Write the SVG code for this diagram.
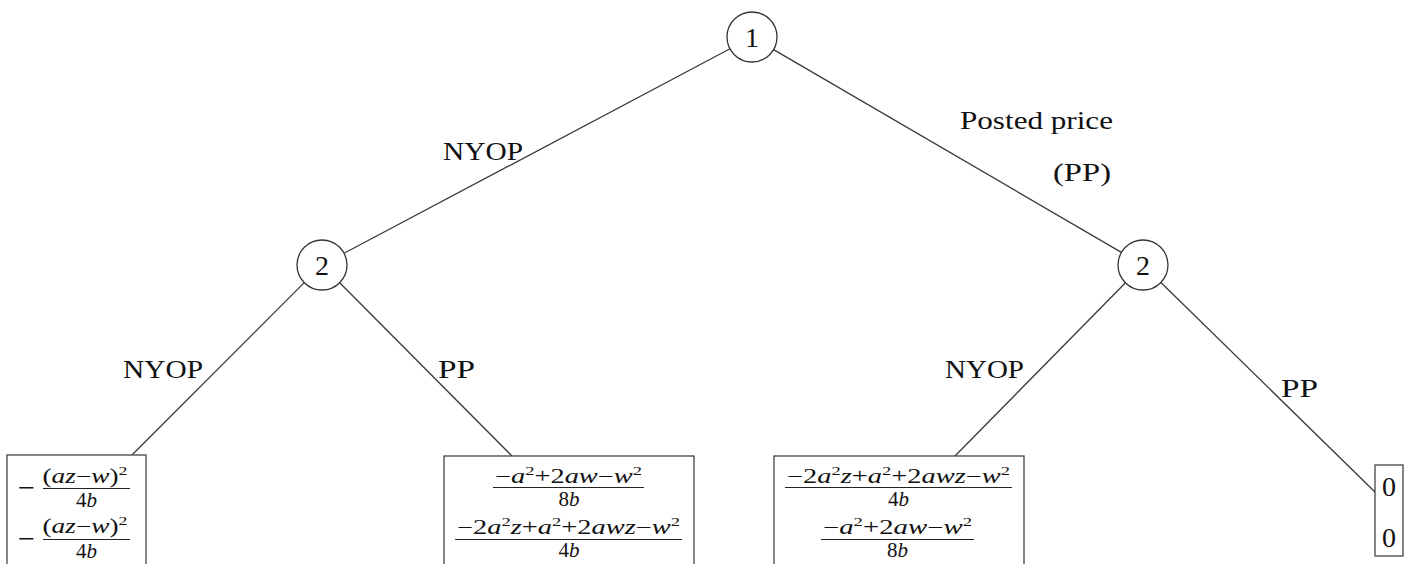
<svg xmlns="http://www.w3.org/2000/svg" width="1417" height="564" viewBox="0 0 1417 564">
<style>
.edge{stroke:#3a3a3a;stroke-width:1.3;fill:none}
.node circle{fill:#fff;stroke:#333;stroke-width:1.3}
.box{fill:#fff;stroke:#444;stroke-width:1.3}
.lbl{font-family:"Liberation Serif",serif;font-size:26px;fill:#111}
.num{font-family:"Liberation Serif",serif;font-size:28px;fill:#111;text-anchor:middle}
.m{font-family:"Liberation Serif",serif;font-size:20px;fill:#111;text-anchor:middle}
.d{font-family:"Liberation Serif",serif;font-size:21px;fill:#111;text-anchor:middle}
.mm{font-family:"Liberation Serif",serif;font-size:28px;fill:#111;text-anchor:middle}
.i{font-style:italic}
.s{font-size:13px}
.fl{stroke:#222;stroke-width:1.2}
</style>
<g id="connectors">
<line class="edge" x1="730" y1="48.7" x2="344.1" y2="253.3"/>
<line class="edge" x1="773.6" y1="49.6" x2="1121.4" y2="252.4"/>
<line class="edge" x1="304.2" y1="282.6" x2="132" y2="455"/>
<line class="edge" x1="339.7" y1="282.8" x2="512" y2="456"/>
<line class="edge" x1="1125.5" y1="282.8" x2="955" y2="456"/>
<line class="edge" x1="1160.9" y1="282.5" x2="1375" y2="492"/>
</g>
<g id="edge-labels">
<text class="lbl" x="443" y="160" textLength="80" lengthAdjust="spacingAndGlyphs">NYOP</text>
<text class="lbl" x="960" y="129" textLength="153" lengthAdjust="spacingAndGlyphs">Posted price</text>
<text class="lbl" x="1053" y="181" textLength="58" lengthAdjust="spacingAndGlyphs">(PP)</text>
<text class="lbl" x="123" y="378" textLength="80" lengthAdjust="spacingAndGlyphs">NYOP</text>
<text class="lbl" x="438" y="378" textLength="37" lengthAdjust="spacingAndGlyphs">PP</text>
<text class="lbl" x="945" y="378" textLength="79" lengthAdjust="spacingAndGlyphs">NYOP</text>
<text class="lbl" x="1281" y="397" textLength="37" lengthAdjust="spacingAndGlyphs">PP</text>
</g>
<g id="node-1" class="node">
<circle cx="752" cy="37" r="25"/>
<text class="num" x="752" y="46.5">1</text>
</g>
<g id="node-2L" class="node">
<circle cx="322" cy="265" r="25"/>
<text class="num" x="322" y="274.5">2</text>
</g>
<g id="node-2R" class="node">
<circle cx="1143" cy="265" r="25"/>
<text class="num" x="1143" y="274.5">2</text>
</g>
<g id="leaf-1">
<rect class="box" x="7" y="455" width="139" height="120"/>
<text class="mm" x="26.5" y="497" textLength="17" lengthAdjust="spacingAndGlyphs">−</text>
<text class="m" x="85" y="483" textLength="85" lengthAdjust="spacingAndGlyphs">(<tspan class="i">az</tspan>−<tspan class="i">w</tspan>)<tspan class="s" dy="-8">2</tspan></text>
<line class="fl" x1="43" y1="488.5" x2="130" y2="488.5"/>
<text class="d" x="86.5" y="507">4<tspan class="i">b</tspan></text>
<text class="mm" x="26.5" y="548" textLength="17" lengthAdjust="spacingAndGlyphs">−</text>
<text class="m" x="85" y="533" textLength="85" lengthAdjust="spacingAndGlyphs">(<tspan class="i">az</tspan>−<tspan class="i">w</tspan>)<tspan class="s" dy="-8">2</tspan></text>
<line class="fl" x1="43" y1="539.5" x2="130" y2="539.5"/>
<text class="d" x="86.5" y="558">4<tspan class="i">b</tspan></text>
</g>
<g id="leaf-2">
<rect class="box" x="444" y="456" width="250" height="120"/>
<text class="m" x="568.5" y="483" textLength="147" lengthAdjust="spacingAndGlyphs">−<tspan class="i">a</tspan><tspan class="s" dy="-8">2</tspan><tspan dy="8">+2</tspan><tspan class="i">aw</tspan>−<tspan class="i">w</tspan><tspan class="s" dy="-8">2</tspan></text>
<line class="fl" x1="493" y1="487.5" x2="644" y2="487.5"/>
<text class="d" x="569" y="506">8<tspan class="i">b</tspan></text>
<text class="m" x="568.5" y="534" textLength="223" lengthAdjust="spacingAndGlyphs">−2<tspan class="i">a</tspan><tspan class="s" dy="-8">2</tspan><tspan class="i" dy="8">z</tspan>+<tspan class="i">a</tspan><tspan class="s" dy="-8">2</tspan><tspan dy="8">+2</tspan><tspan class="i">awz</tspan>−<tspan class="i">w</tspan><tspan class="s" dy="-8">2</tspan></text>
<line class="fl" x1="455" y1="539.5" x2="682" y2="539.5"/>
<text class="d" x="569" y="557">4<tspan class="i">b</tspan></text>
</g>
<g id="leaf-3">
<rect class="box" x="774" y="456" width="250" height="120"/>
<text class="m" x="898.5" y="483" textLength="223" lengthAdjust="spacingAndGlyphs">−2<tspan class="i">a</tspan><tspan class="s" dy="-8">2</tspan><tspan class="i" dy="8">z</tspan>+<tspan class="i">a</tspan><tspan class="s" dy="-8">2</tspan><tspan dy="8">+2</tspan><tspan class="i">awz</tspan>−<tspan class="i">w</tspan><tspan class="s" dy="-8">2</tspan></text>
<line class="fl" x1="785" y1="487.5" x2="1012" y2="487.5"/>
<text class="d" x="898.5" y="506">4<tspan class="i">b</tspan></text>
<text class="m" x="897.5" y="534" textLength="149" lengthAdjust="spacingAndGlyphs">−<tspan class="i">a</tspan><tspan class="s" dy="-8">2</tspan><tspan dy="8">+2</tspan><tspan class="i">aw</tspan>−<tspan class="i">w</tspan><tspan class="s" dy="-8">2</tspan></text>
<line class="fl" x1="821" y1="539.5" x2="974" y2="539.5"/>
<text class="d" x="897.5" y="557">8<tspan class="i">b</tspan></text>
</g>
<g id="leaf-4">
<rect class="box" x="1375" y="465" width="28" height="91"/>
<text class="num" x="1389" y="496" font-size="22">0</text>
<text class="num" x="1389" y="547" font-size="22">0</text>
</g>
</svg>
